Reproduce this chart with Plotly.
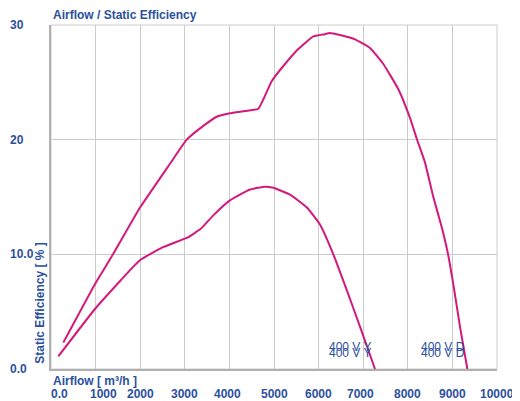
import plotly.graph_objects as go

# ---- data ----
delta_x = [276, 1000, 1390, 2000, 2668, 3043, 3415, 3715, 4013, 4350, 4648, 4948,
           5247, 5545, 5881, 6143, 6250, 6500, 6816, 7152, 7451, 7788, 8049, 8199,
           8386, 8572, 8759, 8908, 9020, 9170, 9335]
delta_y = [2.3, 7.5, 10.0, 14.1, 17.9, 20.0, 21.2, 22.0, 22.3, 22.5, 22.7, 25.1,
           26.6, 27.9, 29.0, 29.2, 29.3, 29.1, 28.75, 28.0, 26.6, 24.4, 21.9, 20.1,
           18.0, 15.0, 12.4, 9.9, 7.4, 3.7, 0.0]

star_x = [164, 1000, 2000, 2500, 3079, 3378, 3640, 4013, 4462, 4798, 4985, 5359,
          5733, 6031, 6330, 6630, 6928, 7265]
star_y = [1.1, 5.3, 9.5, 10.6, 11.5, 12.3, 13.4, 14.7, 15.65, 15.9, 15.8, 15.2,
          14.1, 12.6, 10.0, 6.9, 3.7, 0.0]

x_tick_vals = [200, 1180, 2000, 3000, 3950, 5000, 6000, 6950, 8000, 9000, 10000]
x_tick_text = ["0.0", "1000", "2000", "3000", "4000", "5000", "6000", "7000",
               "8000", "9000", "10000"]
y_tick_vals = [0, 10, 20, 30]
y_tick_text = ["0.0", "10.0", "20", "30"]

curve_labels = [("400 V Y", 6180, 1.95), ("400 V Y", 6180, 1.38),
                ("400 V D", 8250, 1.95), ("400 V D", 8250, 1.38)]

BLUE = "#2b50a0"
MAG = "#d4197c"
FONT = "Liberation Sans, Arial, sans-serif"

fig = go.Figure()
for xs, ys in [(delta_x, delta_y), (star_x, star_y)]:
    fig.add_trace(go.Scatter(x=xs, y=ys, mode="lines",
                             line=dict(color=MAG, width=2, shape="spline", smoothing=0.4),
                             hoverinfo="skip", showlegend=False))

# page body has an 8px margin, so the figure is 8px smaller and offset
L, R, T, B = 43, 23, 17, 32
W, H = 512, 393
pw = W - L - R

ann = []
for v, t in zip(x_tick_vals, x_tick_text):
    ann.append(dict(x=v, y=0, xref="x", yref="y", text="<b>%s</b>" % t, showarrow=False,
                    yshift=-25, font=dict(family=FONT, size=12, color=BLUE),
                    xanchor="center", yanchor="middle"))
for v, t in zip(y_tick_vals, y_tick_text):
    ann.append(dict(x=(0 - L) / pw, y=v, xref="paper", yref="y", text="<b>%s</b>" % t,
                    showarrow=False, font=dict(family=FONT, size=12, color=BLUE),
                    xanchor="left", yanchor="middle"))
for t, xv, yv in curve_labels:
    ann.append(dict(x=xv, y=yv, xref="x", yref="y", text=t, showarrow=False,
                    font=dict(family=FONT, size=12, color=BLUE),
                    xanchor="left", yanchor="middle"))
ann.append(dict(x=0, y=1, xref="paper", yref="paper", text="<b>Airflow / Static Efficiency</b>",
                showarrow=False, xanchor="left", yanchor="bottom", yshift=1,
                font=dict(family=FONT, size=12, color=BLUE)))
ann.append(dict(x=0, y=0, xref="paper", yref="paper", text="<b>Airflow [ m³/h ]</b>",
                showarrow=False, xanchor="left", yanchor="top", yshift=-3,
                font=dict(family=FONT, size=12, color=BLUE)))
ann.append(dict(x=(32 - L) / pw, y=0.19, xref="paper", yref="paper",
                text="<b>Static Efficiency [ % ]</b>", textangle=-90,
                showarrow=False, xanchor="center", yanchor="middle",
                font=dict(family=FONT, size=12, color=BLUE)))

fig.update_layout(
    width=W, height=H,
    margin=dict(l=L, r=R, t=T, b=B),
    paper_bgcolor="white", plot_bgcolor="white",
    annotations=ann,
    xaxis=dict(range=[0, 10000], dtick=1000, tick0=0, showgrid=True,
               gridcolor="#cccccc", gridwidth=1, showticklabels=False,
               zeroline=False, showline=True, linecolor="#b0b0b0", linewidth=2,
               mirror=False, ticks=""),
    yaxis=dict(range=[0, 30], dtick=10, tick0=0, showgrid=True,
               gridcolor="#cccccc", gridwidth=1, showticklabels=False,
               zeroline=False, showline=True, linecolor="#b0b0b0", linewidth=2,
               mirror=False, ticks=""),
    shapes=[dict(type="rect", xref="paper", yref="paper", x0=0, y0=0, x1=1, y1=1,
                 line=dict(color="#cccccc", width=1), layer="below")],
)

fig.write_html("out.html")
